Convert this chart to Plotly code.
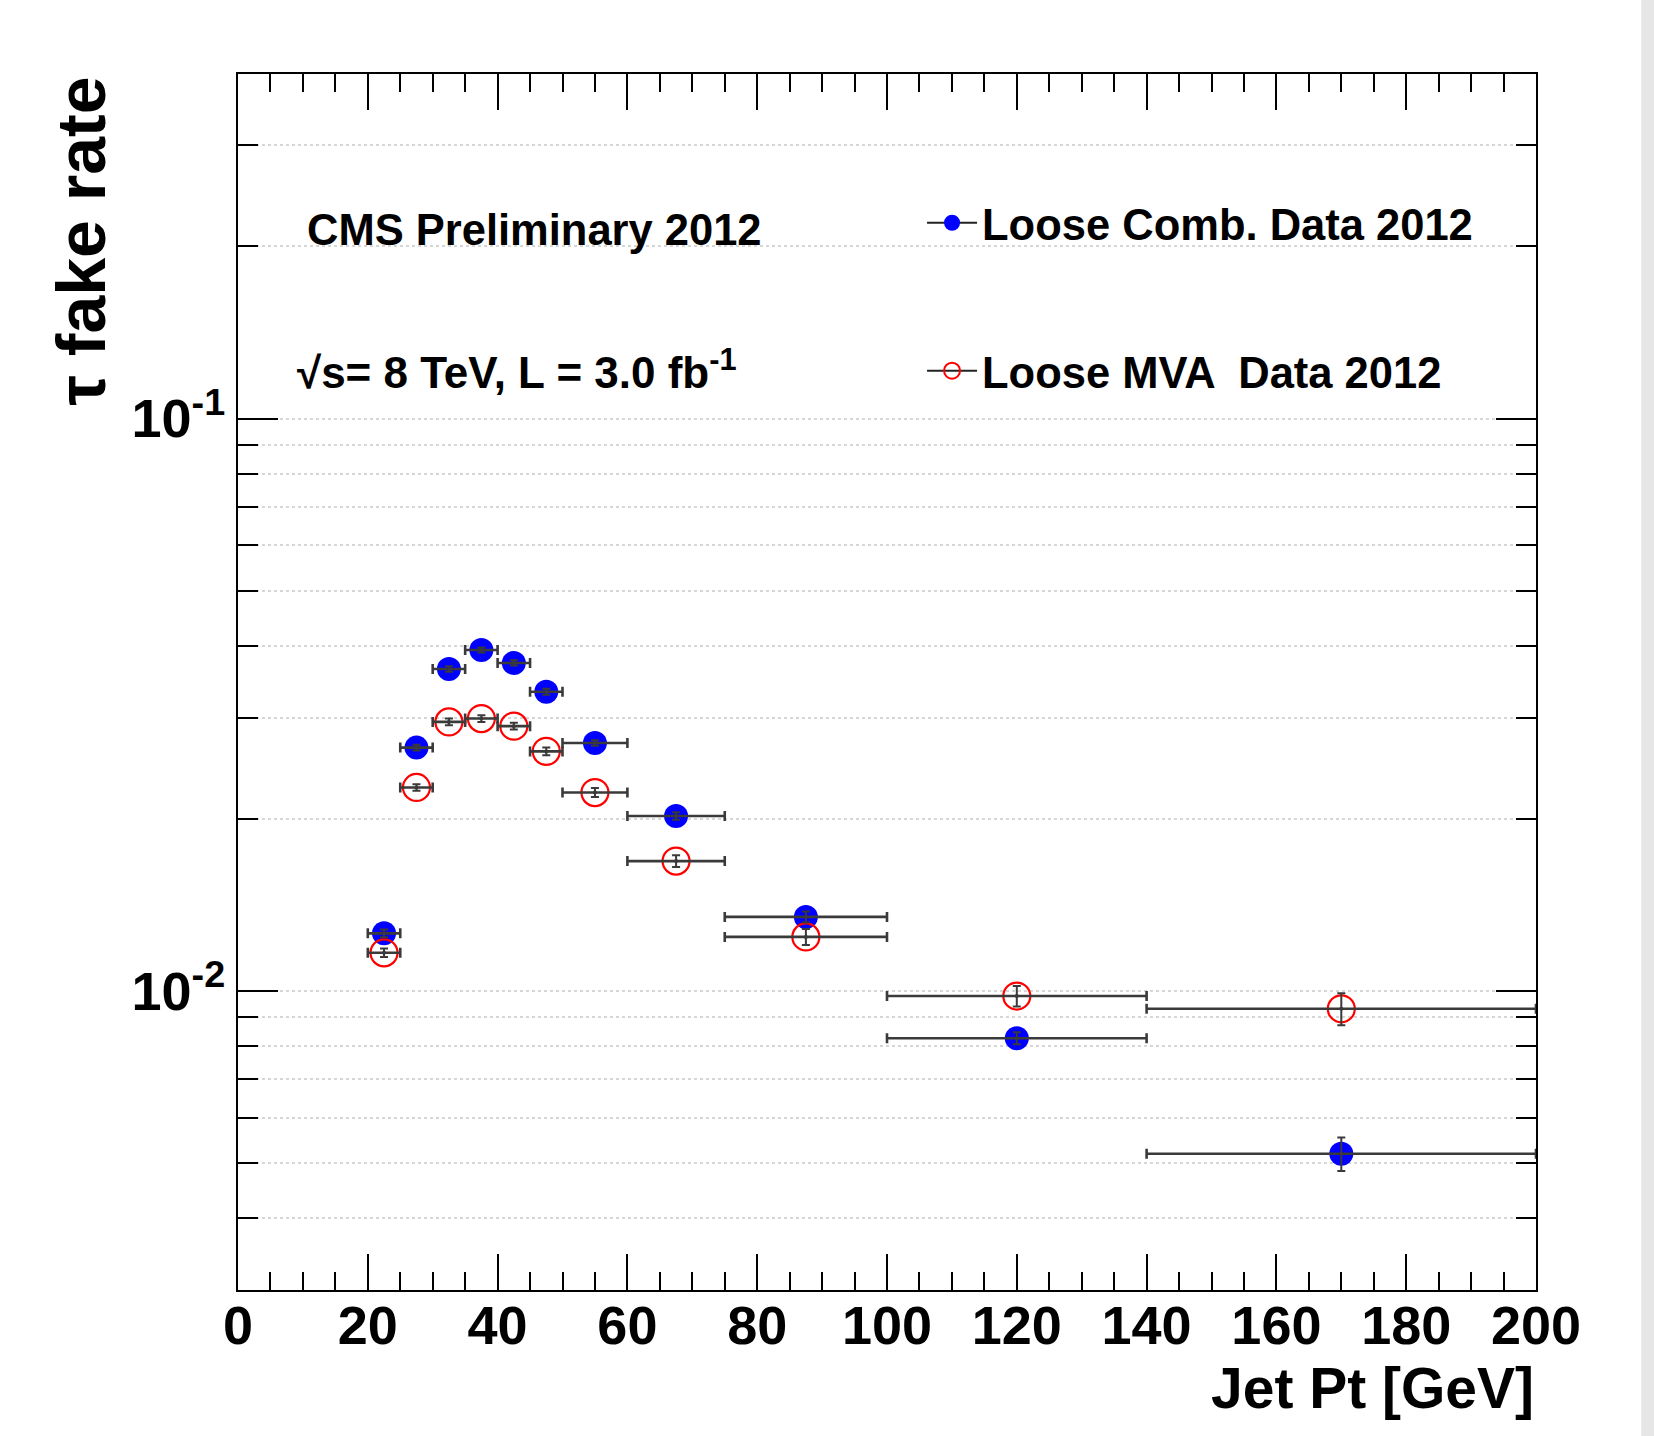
import plotly.graph_objects as go

# ---- data ----
pt_center = [22.5, 27.5, 32.5, 37.5, 42.5, 47.5, 55, 67.5, 87.5, 120, 170]
pt_halfwidth = [2.5, 2.5, 2.5, 2.5, 2.5, 2.5, 5, 7.5, 12.5, 20, 30]
comb_rate = [0.0126, 0.0266, 0.0365, 0.0394, 0.0374, 0.0333, 0.0271, 0.0202, 0.01346, 0.00826, 0.00519]
comb_err = [0.0002, 0.0003, 0.0004, 0.0004, 0.0004, 0.0004, 0.0003, 0.0003, 0.0003, 0.0002, 0.00035]
mva_rate = [0.01165, 0.02266, 0.0295, 0.0299, 0.0290, 0.0262, 0.0222, 0.01685, 0.01242, 0.00979, 0.0093]
mva_err = [0.0002, 0.0003, 0.0004, 0.0004, 0.0004, 0.0004, 0.0004, 0.0004, 0.0004, 0.0004, 0.0006]

x_major = [0, 20, 40, 60, 80, 100, 120, 140, 160, 180, 200]
y_major = [0.01, 0.1]
y_major_text = ["10<sup>-2</sup>", "10<sup>-1</sup>"]
y_minor = [0.003, 0.004, 0.005, 0.006, 0.007, 0.008, 0.009,
           0.02, 0.03, 0.04, 0.05, 0.06, 0.07, 0.08, 0.09, 0.2, 0.3]

FONT = "Liberation Sans, Arial, Helvetica, sans-serif"
ERRC = "#3a3a3a"

fig = go.Figure()

# markers
fig.add_trace(go.Scatter(x=pt_center, y=comb_rate, mode="markers", showlegend=False,
                         marker=dict(symbol="circle", size=24, color="#0000ff")))
fig.add_trace(go.Scatter(x=pt_center, y=mva_rate, mode="markers", showlegend=False,
                         marker=dict(symbol="circle-open", size=27, color="#ff0000",
                                     line=dict(width=2.2, color="#ff0000"))))
# error bars on top
for rate, err in ((comb_rate, comb_err), (mva_rate, mva_err)):
    fig.add_trace(go.Scatter(
        x=pt_center, y=rate, mode="markers", showlegend=False,
        marker=dict(size=4, color=ERRC),
        error_x=dict(type="data", array=pt_halfwidth, color=ERRC, thickness=2.6, width=5),
        error_y=dict(type="data", array=err, color=ERRC, thickness=2, width=4)))

# legend entries
fig.add_trace(go.Scatter(x=[None], y=[None], mode="lines+markers", name="Loose Comb. Data 2012",
                         line=dict(color="#222", width=2),
                         marker=dict(symbol="circle", size=22, color="#0000ff"), legend="legend"))
fig.add_trace(go.Scatter(x=[None], y=[None], mode="lines+markers", name="Loose MVA  Data 2012",
                         line=dict(color="#222", width=2),
                         marker=dict(symbol="circle-open", size=22, color="#ff0000",
                                     line=dict(width=2, color="#ff0000")), legend="legend2"))

legend_common = dict(xanchor="left", yanchor="middle", bgcolor="rgba(0,0,0,0)",
                     font=dict(family=FONT, size=43.5, color="black", weight="bold"),
                     itemwidth=50)

fig.update_layout(
    width=1654, height=1436,
    margin=dict(l=238, r=118, t=74, b=146),
    plot_bgcolor="white", paper_bgcolor="white",
    font=dict(family=FONT, color="black"),
    legend=dict(x=0.527, y=0.8775, **legend_common),
    legend2=dict(x=0.527, y=0.7558, **legend_common),
    xaxis=dict(
        range=[0, 200], tickmode="array", tickvals=x_major,
        ticks="inside", ticklen=36, tickwidth=1.5, tickcolor="black",
        showgrid=False, zeroline=False,
        showline=True, linecolor="black", linewidth=2, mirror="allticks",
        ticklabelstandoff=-13,
        tickfont=dict(family=FONT, size=54, color="black", weight="bold"),
        minor=dict(dtick=5, tick0=0, ticks="inside", ticklen=18, tickwidth=1.5,
                   tickcolor="black", showgrid=False),
    ),
    yaxis=dict(
        type="log", range=[-2.5229, -0.398],
        tickmode="array", tickvals=y_major, ticktext=y_major_text,
        ticks="inside", ticklen=40, tickwidth=1.5, tickcolor="black",
        showgrid=True, gridcolor="#d6d6d6", griddash="dot", gridwidth=1.5,
        zeroline=False,
        showline=True, linecolor="black", linewidth=2, mirror="allticks",
        tickfont=dict(family=FONT, size=54, color="black", weight="bold"),
        minor=dict(tickmode="array", tickvals=y_minor, ticks="inside", ticklen=20,
                   tickwidth=1.5, tickcolor="black", showgrid=True,
                   gridcolor="#d6d6d6", griddash="dot", gridwidth=1.5),
    ),
    annotations=[
        dict(text="τ fake rate", xref="paper", yref="paper", x=-0.121, y=1.0,
             xanchor="center", yanchor="top", textangle=-90, showarrow=False,
             font=dict(family=FONT, size=68, color="black", weight="bold")),
        dict(text="Jet Pt [GeV]", xref="paper", yref="paper", x=1.0, y=-0.081,
             xanchor="right", yanchor="middle", showarrow=False,
             font=dict(family=FONT, size=57, color="black", weight="bold")),
        dict(text="CMS Preliminary 2012", xref="paper", yref="paper", x=0.0517, y=0.8717,
             xanchor="left", yanchor="middle", showarrow=False,
             font=dict(family=FONT, size=43.5, color="black", weight="bold")),
        dict(text="√s= 8 TeV, L = 3.0 fb<sup>-1</sup>", xref="paper", yref="paper",
             x=0.044, y=0.7574, xanchor="left", yanchor="middle", showarrow=False,
             font=dict(family=FONT, size=44, color="black", weight="bold")),
    ],
    shapes=[
        dict(type="rect", xref="paper", yref="paper", x0=1.081, x1=1.095, y0=-0.125, y1=1.065,
             fillcolor="#e6e6e6", line=dict(width=0), layer="below"),
    ],
)

fig.write_html("out.html")
